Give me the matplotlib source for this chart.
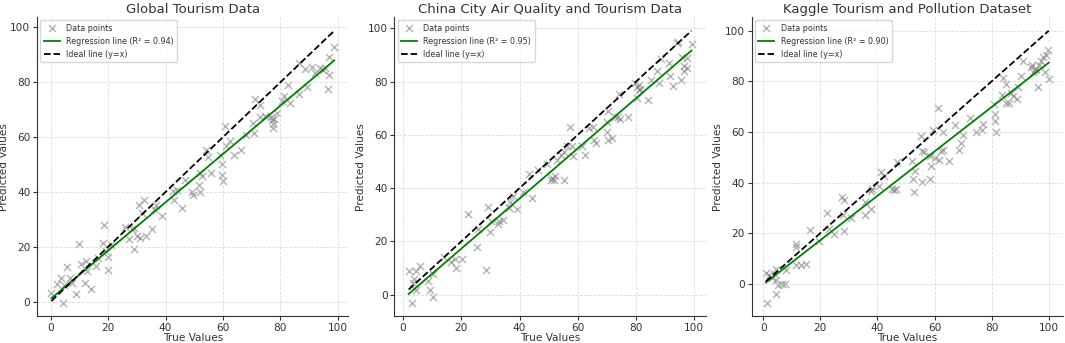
import numpy as np
import matplotlib
matplotlib.use("Agg")
import matplotlib.pyplot as plt

# values (true, predicted)
titles = ["Global Tourism Data",
          "China City Air Quality and Tourism Data",
          "Kaggle Tourism and Pollution Dataset"]
r2_labels = ["0.94", "0.95", "0.90"]

global_true = [0.2, 2.0, 3.5, 4.5, 4.3, 5.8, 6.6, 7.2, 8.9, 9.8, 10.6, 11.8, 12.1, 12.7,
               14.1, 15.8, 16.4, 18.1, 18.5, 19.3, 19.8, 19.8, 21.0, 25.8, 27.1, 28.3,
               29.1, 29.1, 30.2, 30.8, 31.1, 31.9, 32.5, 33.1, 35.4, 36.0, 36.6, 38.9,
               42.7, 42.9, 44.1, 45.8, 46.9, 49.3, 49.6, 51.6, 51.9, 52.1, 52.7, 54.2,
               54.7, 55.8, 59.1, 59.7, 59.7, 59.9, 60.7, 61.1, 62.3, 63.7, 66.2, 68.1,
               70.4, 70.8, 71.3, 72.9, 72.9, 74.6, 76.6, 77.0, 77.3, 77.3, 77.8, 78.7,
               80.4, 81.2, 82.7, 83.3, 86.4, 86.4, 88.7, 89.3, 91.0, 92.2, 93.9, 94.8,
               95.4, 96.5, 96.9, 97.1, 98.8]
global_pred = [3.3, 6.3, 8.7, 5.9, -0.4, 12.7, 8.7, 6.9, 2.7, 21.1, 13.8, 6.9, 14.8, 11.2,
               4.7, 13.0, 16.0, 21.2, 27.8, 18.4, 16.4, 11.4, 20.8, 27.3, 22.9, 26.3,
               19.0, 26.7, 23.9, 35.2, 23.3, 32.4, 37.2, 23.9, 26.3, 33.6, 35.2, 31.2,
               40.5, 37.2, 40.8, 34.2, 44.5, 39.9, 38.9, 42.7, 39.9, 46.9, 45.7, 55.4,
               52.6, 46.9, 53.3, 50.2, 46.3, 44.1, 64.1, 56.8, 58.4, 53.6, 55.2, 60.8,
               65.1, 61.5, 73.8, 71.8, 67.5, 67.8, 67.5, 66.3, 64.7, 63.5, 66.7, 68.7,
               73.3, 75.0, 79.0, 72.4, 75.6, 87.2, 84.8, 78.2, 85.7, 83.5, 85.1, 84.5,
               85.1, 77.5, 89.1, 82.7, 93.0]

china_true = [1.9, 3.2, 3.4, 3.8, 4.3, 4.6, 5.9, 8.5, 9.1, 10.3, 10.3, 14.2, 16.5, 18.0,
              18.2, 20.3, 22.2, 25.3, 25.9, 28.5, 29.1, 29.8, 30.2, 32.5, 32.8, 34.4,
              36.5, 36.7, 37.6, 39.1, 41.3, 43.1, 44.4, 46.5, 49.3, 50.7, 51.3, 51.8,
              52.2, 53.0, 54.1, 55.2, 55.2, 56.4, 57.3, 58.1, 58.3, 61.5, 62.4, 64.0,
              65.1, 65.5, 66.3, 70.0, 70.0, 70.4, 70.4, 71.8, 72.7, 73.8, 74.3, 74.4,
              77.2, 79.7, 80.3, 80.3, 80.9, 81.1, 81.5, 84.0, 85.2, 87.2, 88.0, 88.6,
              91.5, 91.7, 92.8, 94.0, 94.3, 95.4, 95.9, 96.6, 96.6, 97.4, 97.6, 99.1]
china_pred = [8.7, -3.0, 4.5, 6.0, 8.7, 1.6, 10.6, 5.3, 1.6, -0.9, 7.8, 14.0, 12.2, 13.4,
              9.9, 13.4, 30.2, 17.8, 24.6, 9.4, 33.0, 23.7, 27.7, 26.5, 27.5, 28.1,
              32.7, 34.8, 37.0, 32.3, 38.5, 45.3, 36.4, 46.8, 49.2, 42.9, 43.9, 42.9,
              44.7, 50.7, 52.5, 53.4, 43.2, 55.7, 63.1, 55.7, 52.2, 55.7, 52.5, 62.5,
              62.9, 57.9, 56.9, 65.0, 61.2, 69.1, 58.1, 58.8, 66.8, 66.6, 75.3, 65.8,
              66.8, 79.5, 74.0, 77.8, 76.8, 78.6, 77.4, 73.0, 80.7, 83.9, 79.6, 88.6,
              87.0, 82.0, 78.3, 94.4, 95.0, 80.5, 89.4, 85.7, 83.9, 89.0, 85.2, 94.2]

kaggle_true = [1.2, 0.9, 2.1, 3.0, 3.8, 4.4, 4.4, 4.4, 5.3, 6.5, 7.7, 7.9, 11.4, 11.6,
               11.6, 13.1, 14.9, 16.3, 19.5, 22.4, 23.0, 24.8, 27.7, 27.9, 28.3, 28.3,
               30.9, 35.6, 35.8, 37.6, 37.6, 38.1, 40.5, 41.4, 42.2, 45.1, 45.7, 46.5,
               46.9, 52.1, 52.3, 52.7, 53.3, 55.3, 55.6, 56.2, 55.6, 58.3, 58.5, 58.8,
               59.3, 60.2, 61.2, 61.7, 62.3, 62.8, 63.1, 64.9, 67.0, 68.4, 69.3, 69.8,
               72.4, 74.4, 76.7, 77.1, 80.9, 81.2, 81.2, 81.4, 83.8, 84.0, 85.2, 85.2,
               86.0, 86.7, 87.6, 89.0, 89.3, 90.2, 91.0, 93.7, 94.2, 94.5, 95.1, 95.7,
               96.3, 96.6, 97.2, 98.0, 98.6, 99.2, 99.8, 100.0]
kaggle_pred = [-7.5, 4.3, 3.5, 2.2, 3.9, 5.9, 1.3, -3.9, -0.4, 0.0, 0.0, 5.6, 15.7, 14.4,
               7.2, 7.2, 7.8, 21.3, 17.0, 28.1, 21.6, 19.6, 34.4, 27.1, 32.9, 20.9,
               26.1, 32.3, 27.1, 29.4, 36.6, 37.5, 38.6, 44.1, 42.5, 37.3, 37.0, 37.3,
               48.0, 48.4, 41.2, 36.2, 44.4, 58.4, 52.3, 51.9, 40.1, 41.2, 50.3, 46.4,
               60.8, 49.7, 69.3, 49.0, 52.3, 60.1, 52.7, 48.4, 62.7, 52.7, 55.8, 58.8,
               65.4, 59.9, 60.7, 63.1, 71.2, 64.4, 67.1, 60.1, 74.5, 81.4, 78.8, 71.5,
               71.5, 75.4, 74.1, 73.2, 77.8, 82.0, 88.2, 85.6, 86.3, 83.7, 84.3, 85.0,
               77.8, 86.6, 88.0, 89.8, 83.7, 90.6, 92.2, 81.0]

datasets = [(global_true, global_pred),
            (china_true, china_pred),
            (kaggle_true, kaggle_pred)]

plt.rcParams['font.family'] = 'DejaVu Sans'
plt.rcParams['text.color'] = '#333333'
plt.rcParams['axes.labelcolor'] = '#333333'
plt.rcParams['xtick.color'] = '#333333'
plt.rcParams['ytick.color'] = '#333333'
plt.rcParams['axes.edgecolor'] = '#333333'

fig, axes = plt.subplots(1, 3, figsize=(10.65, 3.43), dpi=100)
fig.subplots_adjust(left=0.035, right=0.998, bottom=0.078, top=0.950, wspace=0.148)

for ax, title, r2, (yt, yp) in zip(axes, titles, r2_labels, datasets):
    yt = np.array(yt)
    yp = np.array(yp)
    ax.scatter(yt, yp, marker='x', color='gray', alpha=0.6, s=26, linewidths=1.0,
               label='Data points')
    slope, intercept = np.polyfit(yt, yp, 1)
    xs = np.array([yt.min(), yt.max()])
    ax.plot(xs, slope * xs + intercept, color='green', lw=1.3,
            label=f'Regression line (R\u00b2 = {r2})')
    ax.plot(xs, xs, 'k--', lw=1.3, label='Ideal line (y=x)')
    ax.set_title(title, fontsize=9.5, pad=3)
    ax.set_xlabel('True Values', fontsize=7.6, labelpad=0)
    ax.set_ylabel('Predicted Values', fontsize=7.6, labelpad=1)
    ax.tick_params(labelsize=7.6, length=3, pad=2)
    ax.grid(True, linestyle='--', color='#cccccc', alpha=0.7, lw=0.6)
    ax.spines['top'].set_visible(False)
    ax.spines['right'].set_visible(False)
    ax.legend(loc='upper left', fontsize=5.8, framealpha=0.8, borderaxespad=0.4)

fig.savefig('out.png', dpi=100)
